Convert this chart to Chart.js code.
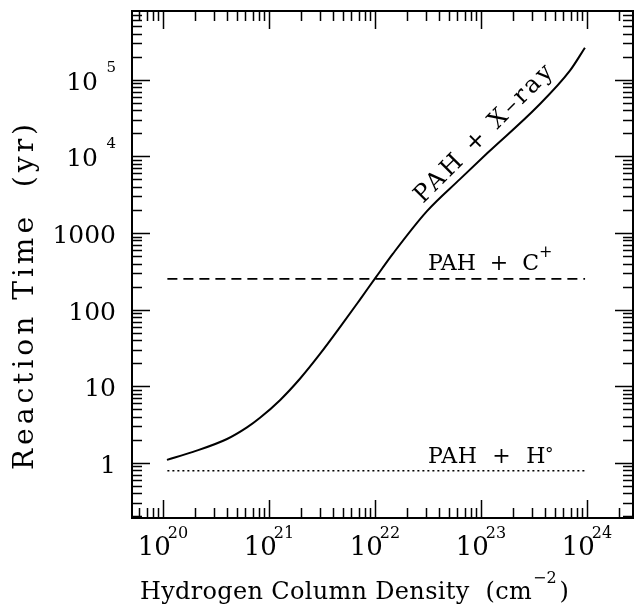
<!DOCTYPE html>
<html>
<head>
<meta charset="utf-8">
<script src="https://cdn.jsdelivr.net/npm/chart.js@4.4.1/dist/chart.umd.min.js"></script>
<style>
html, body { margin: 0; padding: 0; background: #fff; }
#wrap { width: 638px; height: 612px; position: relative; }
</style>
</head>
<body>
<div id="wrap"><canvas id="reactionChart"></canvas></div>
<script>
// PAH destruction time scales vs hydrogen column density
const xrayDensity = [1.09e20, 1.92e20, 4.02e20, 6.20e20, 8.23e20, 1.27e21, 1.96e21, 3.03e21, 4.68e21,
                     7.22e21, 1.022e22, 1.479e22, 3.095e22, 6.34e22, 1.164e23, 3.376e23, 6.91e23, 9.57e23];
const xrayTime = [1.094, 1.392, 2.051, 2.907, 3.88, 6.584, 12.53, 26.41, 59.09,
                  135.5, 265.6, 538.4, 1932, 5054, 11240, 44150, 131500, 261700];
const cPlusDensity = [1.1e20, 9.6e23];
const cPlusTime = [252, 252];
const hDensity = [1.1e20, 9.6e23];
const hTime = [0.79, 0.79];

const xTickExponents = [20, 21, 22, 23, 24];
const yTickValues = [1e5, 1e4, 1000, 100, 10, 1];
const yTickLabels = [['10', '5'], ['10', '4'], ['1000'], ['100'], ['10'], ['1']];

const SERIF = '"DejaVu Serif", "Liberation Serif", serif';

function toPoints(xs, ys) {
    return xs.map((x, i) => ({ x: x, y: ys[i] }));
}

// spread letters so the text fills a given width
function spacingFor(ctx, text, width) {
    ctx.letterSpacing = '0px';
    const w = ctx.measureText(text).width;
    return Math.max(0, (width - w) / text.length);
}

// frame, inward ticks on all four sides, tick labels, titles and curve labels
const frameAndLabels = {
    id: 'frameAndLabels',
    afterDraw(chart) {
        const { ctx, chartArea: a, scales: { x, y } } = chart;
        ctx.save();
        ctx.strokeStyle = '#000';
        ctx.fillStyle = '#000';

        // ticks
        ctx.lineWidth = 1.5;
        const xMin = Math.floor(Math.log10(x.min)), xMax = Math.ceil(Math.log10(x.max));
        for (let d = xMin; d <= xMax; d++) {
            for (let m = 1; m <= 9; m++) {
                const v = m * Math.pow(10, d);
                if (v < x.min || v > x.max) continue;
                const px = Math.round(x.getPixelForValue(v)) + 0.5;
                const len = m === 1 ? 18 : 10;
                ctx.beginPath();
                ctx.moveTo(px, a.bottom); ctx.lineTo(px, a.bottom - len);
                ctx.moveTo(px, a.top); ctx.lineTo(px, a.top + len);
                ctx.stroke();
            }
        }
        const yMin = Math.floor(Math.log10(y.min)), yMax = Math.ceil(Math.log10(y.max));
        for (let d = yMin; d <= yMax; d++) {
            for (let m = 1; m <= 9; m++) {
                const v = m * Math.pow(10, d);
                if (v < y.min || v > y.max) continue;
                const py = Math.round(y.getPixelForValue(v)) + 0.5;
                const len = m === 1 ? 18 : 10;
                ctx.beginPath();
                ctx.moveTo(a.left, py); ctx.lineTo(a.left + len, py);
                ctx.moveTo(a.right, py); ctx.lineTo(a.right - len, py);
                ctx.stroke();
            }
        }

        // frame
        ctx.lineWidth = 2;
        ctx.strokeRect(a.left, a.top, a.right - a.left, a.bottom - a.top);

        // x tick labels
        ctx.textBaseline = 'alphabetic';
        xTickExponents.forEach(e => {
            const px = x.getPixelForValue(Math.pow(10, e));
            ctx.font = '26px ' + SERIF;
            const wBase = ctx.measureText('10').width;
            ctx.font = '16px ' + SERIF;
            const wExp = ctx.measureText(String(e)).width;
            const left = px - (wBase + wExp - 3) / 2;
            ctx.textAlign = 'left';
            ctx.font = '26px ' + SERIF;
            ctx.fillText('10', left, 555);
            ctx.font = '16px ' + SERIF;
            ctx.fillText(String(e), left + wBase - 3, 538);
        });

        // y tick labels
        yTickValues.forEach((v, i) => {
            const py = y.getPixelForValue(v);
            const lab = yTickLabels[i];
            ctx.textAlign = 'right';
            if (lab.length === 2) {
                ctx.font = '15px ' + SERIF;
                ctx.fillText(lab[1], 116, py - 8);
                ctx.font = '25px ' + SERIF;
                ctx.fillText(lab[0], 98, py + 10);
            } else {
                ctx.font = '25px ' + SERIF;
                ctx.fillText(lab[0], 116, py + 10);
            }
        });

        // x axis title
        const xTitle = 'Hydrogen Column Density  (cm';
        ctx.textAlign = 'left';
        ctx.font = '24px ' + SERIF;
        const sp = spacingFor(ctx, xTitle, 392);
        ctx.letterSpacing = sp + 'px';
        ctx.fillText(xTitle, 140, 599);
        let w = ctx.measureText(xTitle).width;
        ctx.letterSpacing = '0px';
        ctx.font = '16px ' + SERIF;
        ctx.fillText('\u22122', 140 + w + 1, 583);
        const w2 = ctx.measureText('\u22122').width;
        ctx.font = '24px ' + SERIF;
        ctx.fillText(')', 140 + w + w2 + 4, 599);

        // y axis title
        const yTitle = 'Reaction Time  (yr)';
        ctx.save();
        ctx.translate(33, 470);
        ctx.rotate(-Math.PI / 2);
        ctx.font = '28px ' + SERIF;
        ctx.letterSpacing = spacingFor(ctx, yTitle, 350) + 'px';
        ctx.textAlign = 'left';
        ctx.fillText(yTitle, 0, 0);
        ctx.restore();

        // curve labels
        ctx.font = '22px ' + SERIF;
        ctx.textAlign = 'left';
        ctx.letterSpacing = spacingFor(ctx, 'PAH  +  C', 105) + 'px';
        ctx.fillText('PAH  +  C', 428, 270);
        w = ctx.measureText('PAH  +  C').width;
        ctx.letterSpacing = '0px';
        ctx.font = '16px ' + SERIF;
        ctx.fillText('+', 428 + w, 257);

        ctx.font = '22px ' + SERIF;
        ctx.letterSpacing = spacingFor(ctx, 'PAH  +  H', 118) + 'px';
        ctx.fillText('PAH  +  H', 428, 463);
        w = ctx.measureText('PAH  +  H').width;
        ctx.letterSpacing = '0px';
        ctx.font = '17px ' + SERIF;
        ctx.fillText('\u00b0', 428 + w - 1, 459);

        ctx.save();
        ctx.translate(423, 204);
        ctx.rotate(-Math.PI / 4);
        ctx.font = '24px ' + SERIF;
        ctx.letterSpacing = spacingFor(ctx, 'PAH + X\u2013ray', 188) + 'px';
        ctx.fillText('PAH + X\u2013ray', 0, 0);
        ctx.restore();

        ctx.restore();
    }
};

const ctx = document.getElementById('reactionChart').getContext('2d');
const chart = new Chart(ctx, {
    type: 'line',
    data: {
        datasets: [
            {
                label: 'PAH + X-ray',
                data: toPoints(xrayDensity, xrayTime),
                borderColor: '#000',
                borderWidth: 2,
                pointRadius: 0,
                cubicInterpolationMode: 'monotone'
            },
            {
                label: 'PAH + C+',
                data: toPoints(cPlusDensity, cPlusTime),
                borderColor: '#000',
                borderWidth: 1.6,
                borderDash: [10, 6],
                pointRadius: 0
            },
            {
                label: 'PAH + H',
                data: toPoints(hDensity, hTime),
                borderColor: '#000',
                borderWidth: 1.6,
                borderDash: [2, 3],
                pointRadius: 0
            }
        ]
    },
    options: {
        responsive: true,
        maintainAspectRatio: false,
        animation: false,
        layout: { padding: { left: 132, right: 5, top: 11, bottom: 94 } },
        plugins: { legend: { display: false }, tooltip: { enabled: false } },
        scales: {
            x: { type: 'logarithmic', min: 5.1e19, max: 2.72e24, display: false },
            y: { type: 'logarithmic', min: 0.191, max: 7.9e5, display: false }
        }
    },
    plugins: [frameAndLabels]
});
</script>
</body>
</html>
